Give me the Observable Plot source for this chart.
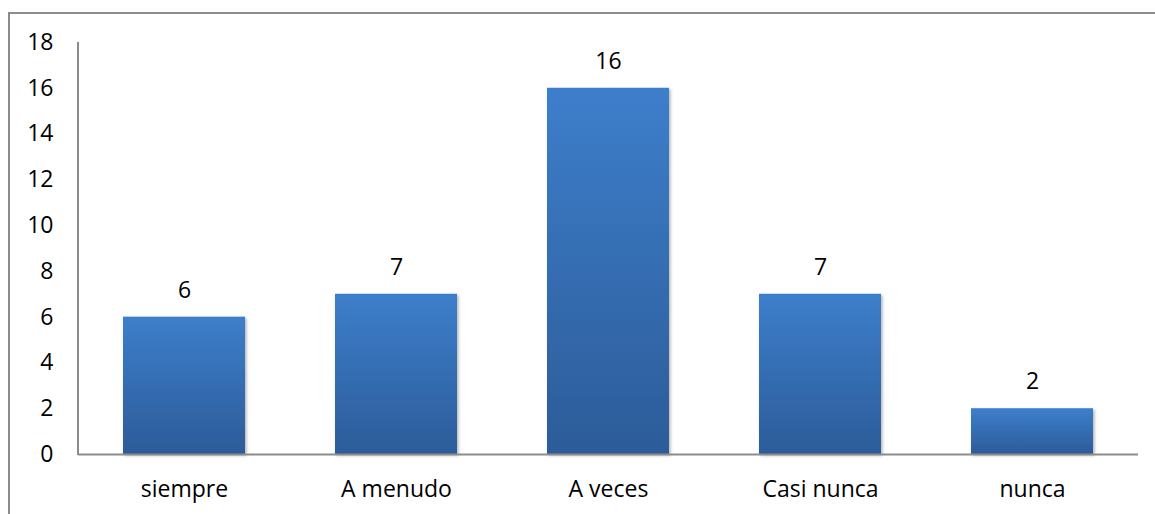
<!DOCTYPE html>
<html>
<head>
<meta charset="utf-8">
<script src="https://cdn.jsdelivr.net/npm/d3@7"></script>
<script src="https://cdn.jsdelivr.net/npm/@observablehq/plot@0.6"></script>
<style>
  body { margin: 0; background: #fff; }
  #wrap { position: relative; width: 1155px; height: 514px; overflow: hidden; }
  #frame { position: absolute; left: 8px; top: 12px; width: 1160px; height: 520px;
           border-left: 2px solid #8c8c8c; border-top: 2px solid #8c8c8c; box-sizing: border-box; }
  #chart { position: absolute; left: 0; top: 0; }
  #chart svg text { font-family: "Open Sans", sans-serif; }
</style>
</head>
<body>
<div id="wrap"><div id="frame"></div><div id="chart"></div></div>
<script>
const categories = ["siempre", "A menudo", "A veces", "Casi nunca", "nunca"];
const values = [6, 7, 16, 7, 2];
const yTicks = [0, 2, 4, 6, 8, 10, 12, 14, 16, 18];

const data = categories.map((c, i) => ({category: c, value: values[i]}));
const FS = 23;

const chart = Plot.plot({
  width: 1155,
  height: 514,
  marginLeft: 78,
  marginRight: 17,
  marginTop: 42,
  marginBottom: 60,
  style: {fontFamily: "Open Sans, sans-serif", fontSize: FS + "px", color: "#000", background: "transparent", overflow: "visible"},
  x: {domain: categories, paddingInner: 0.425, paddingOuter: 0.2125, label: null},
  y: {domain: [0, 18], label: null},
  marks: [
    () => {
      const ns = "http://www.w3.org/2000/svg";
      const defs = document.createElementNS(ns, "defs");
      defs.innerHTML = `
        <linearGradient id="barGrad" x1="0" y1="0" x2="0" y2="1">
          <stop offset="0" stop-color="#3d7ecb"/>
          <stop offset="1" stop-color="#2c5c99"/>
        </linearGradient>
        <filter id="shadow" x="-10%" y="-10%" width="130%" height="130%">
          <feDropShadow dx="1.5" dy="1.5" stdDeviation="1.5" flood-color="#000" flood-opacity="0.3"/>
        </filter>`;
      return defs;
    },
    Plot.barY(data, {x: "category", y: "value", fill: "url(#barGrad)",
      render: (i, s, v, d, c, next) => { const g = next(i, s, v, d, c); g.setAttribute("filter", "url(#shadow)"); return g; }}),
    Plot.text(data, {x: "category", y: "value", text: d => String(d.value), dy: -27, fontSize: FS, fill: "#000"}),
    Plot.ruleY([0], {stroke: "#8c8c8c", strokeWidth: 2}),
    (index, scales, values, dims) => {
      const ns = "http://www.w3.org/2000/svg";
      const line = document.createElementNS(ns, "line");
      const x = dims.marginLeft;
      line.setAttribute("x1", x); line.setAttribute("x2", x);
      line.setAttribute("y1", scales.y(18)); line.setAttribute("y2", scales.y(0) + 1);
      line.setAttribute("stroke", "#8c8c8c"); line.setAttribute("stroke-width", 2);
      return line;
    },
    Plot.axisY(yTicks, {tickSize: 0, tickPadding: 25, fontSize: FS, fill: "#000", label: null}),
    Plot.axisX({tickSize: 0, tickPadding: 26, fontSize: FS, fill: "#000", label: null})
  ]
});
document.getElementById("chart").appendChild(chart);
</script>
</body>
</html>
